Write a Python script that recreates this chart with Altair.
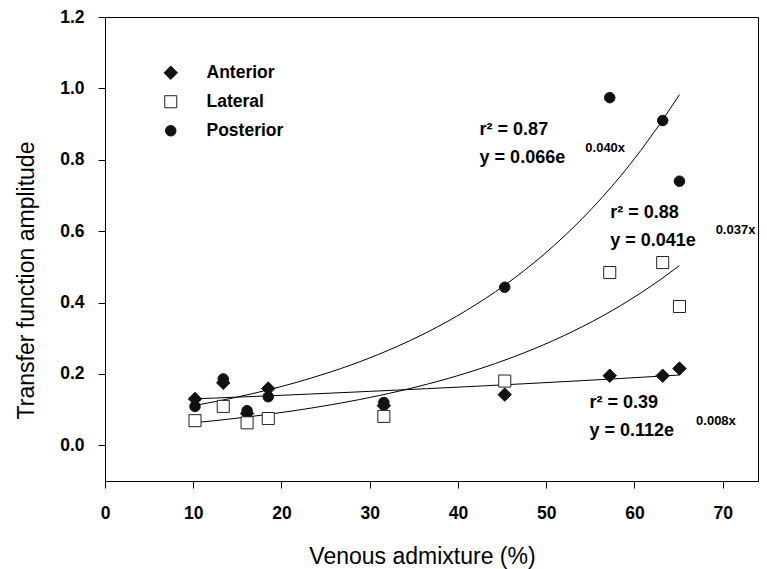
import altair as alt
import pandas as pd

# ---- data ----
venous = [10.2, 13.4, 16.1, 18.5, 31.6, 45.3, 57.2, 63.2, 65.1]
anterior = [0.130, 0.175, 0.089, 0.159, 0.111, 0.142, 0.195, 0.195, 0.215]
lateral = [0.069, 0.109, 0.063, 0.075, 0.081, 0.180, 0.484, 0.512, 0.389]
posterior = [0.109, 0.186, 0.097, 0.136, 0.120, 0.443, 0.974, 0.910, 0.740]
series_names = ["Anterior", "Lateral", "Posterior"]

# annotation texts and their anchor positions (data units)
big_text = ["r² = 0.87", "y = 0.066e", "r² = 0.88", "y = 0.041e", "r² = 0.39", "y = 0.112e"]
big_x = [42.45, 42.45, 57.26, 57.26, 54.9, 54.9]
big_y = [0.870, 0.791, 0.638, 0.559, 0.104, 0.025]
exp_text = ["0.040x", "0.037x", "0.008x"]
exp_x = [54.43, 69.2, 66.98]
exp_y = [0.823, 0.591, 0.056]

rows = []
for name, vals in zip(series_names, [anterior, lateral, posterior]):
    for xv, yv in zip(venous, vals):
        rows.append({"x": xv, "y": yv, "series": name})
df = pd.DataFrame(rows)
df_big = pd.DataFrame({"x": big_x, "y": big_y, "t": big_text})
df_exp = pd.DataFrame({"x": exp_x, "y": exp_y, "t": exp_text})

FONT = "Liberation Sans"

xscale = alt.Scale(domain=[0, 74], nice=False, zero=False)
yscale = alt.Scale(domain=[-0.1, 1.2], nice=False, zero=False)

x_axis = alt.Axis(
    values=[0, 10, 20, 30, 40, 50, 60, 70], grid=False, tickSize=7,
    labelPadding=16, labelFont=FONT, labelFontSize=17.5, labelFontWeight="bold",
    labelColor="black", domainColor="black", tickColor="black",
    labelFlush=False, labelOverlap=False,
    titleFont=FONT, titleFontSize=23, titleFontWeight="normal", titleColor="black",
    titleX=317, titleY=82, titleBaseline="alphabetic", titleAlign="center",
)
y_axis = alt.Axis(
    values=[0.0, 0.2, 0.4, 0.6, 0.8, 1.0, 1.2], format=".1f", grid=False, tickSize=7,
    labelPadding=14, labelFont=FONT, labelFontSize=17.5, labelFontWeight="bold",
    labelColor="black", domainColor="black", tickColor="black",
    labelFlush=False, labelOverlap=False,
    titleFont=FONT, titleFontSize=23, titleFontWeight="normal", titleColor="black",
    titleAngle=270, titleX=-72, titleY=263, titleBaseline="alphabetic", titleAlign="center",
)

X = alt.X("x:Q", scale=xscale, axis=x_axis, title="Venous admixture (%)")
Y = alt.Y("y:Q", scale=yscale, axis=y_axis, title="Transfer function amplitude")

lines = alt.Chart(df).transform_regression(
    "x", "y", method="exp", groupby=["series"]
).mark_line(color="black", strokeWidth=1).encode(
    x=X, y=Y,
    detail="series:N",
)

points = alt.Chart(df).mark_point(
    filled=True, strokeWidth=1, opacity=1, fillOpacity=1, strokeOpacity=1
).encode(
    x=X, y=Y,
    fill=alt.Fill("series:N", title=None,
                  scale=alt.Scale(domain=series_names, range=["#111111", "white", "#111111"])),
    stroke=alt.Stroke("series:N", title=None,
                      scale=alt.Scale(domain=series_names, range=["#111111", "#222222", "#111111"])),
    shape=alt.Shape("series:N", title=None,
                    scale=alt.Scale(domain=series_names, range=["diamond", "square", "circle"])),
    size=alt.Size("series:N", title=None,
                  scale=alt.Scale(domain=series_names, range=[180, 110, 140])),
)

big = alt.Chart(df_big).mark_text(
    align="left", baseline="alphabetic", font=FONT, fontSize=18,
    fontWeight="bold", color="black"
).encode(x=X, y=Y, text="t:N")

small = alt.Chart(df_exp).mark_text(
    align="left", baseline="alphabetic", font=FONT, fontSize=13,
    fontWeight="bold", color="black"
).encode(x=X, y=Y, text="t:N")

chart = alt.layer(lines, points, big, small).properties(
    width=653, height=464,
    padding={"left": 105, "top": 17, "right": 9, "bottom": 88},
    autosize=alt.AutoSizeParams(type="none"),
    background="white",
).configure_view(
    stroke="black", strokeWidth=1
).configure_legend(
    orient="none", legendX=57, legendY=47, padding=0,
    labelFont=FONT, labelFontSize=17.5, labelFontWeight="bold", labelColor="black",
    labelOffset=27, rowPadding=10, symbolStrokeWidth=1,
)

chart.save("out.html", embed_options={"renderer": "svg", "actions": False})
